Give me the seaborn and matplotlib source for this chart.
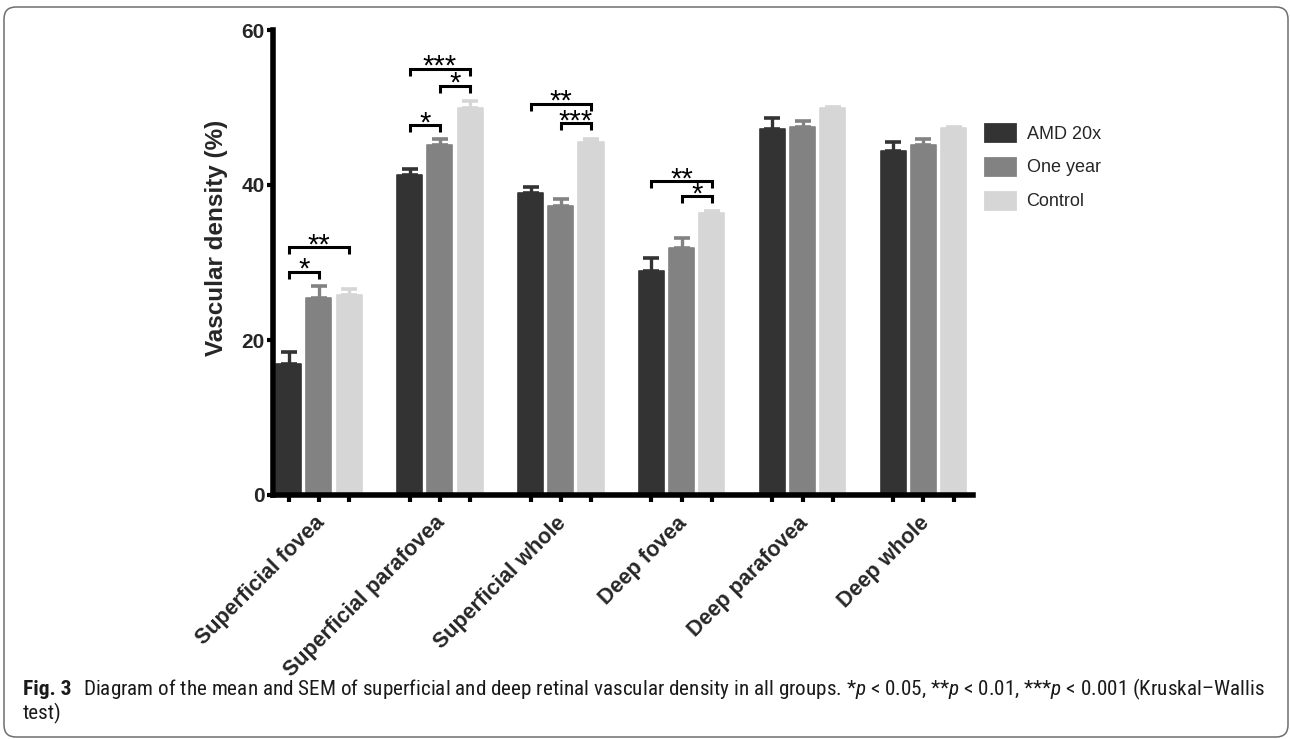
import matplotlib
matplotlib.use("Agg")
import matplotlib.pyplot as plt
import matplotlib.transforms as mtransforms
from matplotlib.patches import FancyBboxPatch, Patch
from matplotlib import font_manager
import seaborn as sns
import numpy as np
import pandas as pd

# ---------------- data ----------------
categories = ["Superficial fovea", "Superficial parafovea", "Superficial whole",
              "Deep fovea", "Deep parafovea", "Deep whole"]
groups = ["AMD 20x", "One year", "Control"]
amd_mean = [16.9, 41.3, 39.0, 28.9, 47.2, 44.4]
amd_sem = [1.5, 0.8, 0.8, 1.7, 1.4, 1.1]
year_mean = [25.4, 45.2, 37.3, 31.9, 47.5, 45.2]
year_sem = [1.6, 0.8, 0.9, 1.2, 0.7, 0.7]
ctrl_mean = [25.8, 49.9, 45.5, 36.4, 50.0, 47.4]
ctrl_sem = [0.8, 0.9, 0.5, 0.2, 0.1, 0.1]
y_ticks = [0, 20, 40, 60]
y_label = "Vascular density (%)"
# significance brackets: (category index, group a, group b, bracket height, label)
sig_category = [0, 0, 1, 1, 1, 2, 2, 3, 3]
sig_a = [0, 0, 0, 0, 1, 0, 1, 0, 1]
sig_b = [1, 2, 1, 2, 2, 2, 2, 2, 2]
sig_height = [28.8, 32.0, 47.7, 55.0, 52.8, 50.5, 48.0, 40.5, 38.6]
sig_label = ["*", "**", "*", "***", "*", "**", "***", "**", "*"]
caption_bold = "Fig. 3"
caption_main = ("Diagram of the mean and SEM of superficial and deep retinal vascular density in all "
                "groups. *$p$ < 0.05, **$p$ < 0.01, ***$p$ < 0.001 (Kruskal\u2013Wallis")
caption_line2 = "test)"

colors = ["#333333", "#828282", "#d6d6d6"]

# ---------------- style ----------------
sns.set_style("white")
avail = {f.name for f in font_manager.fontManager.ttflist}
main_family = next((f for f in ["Liberation Sans", "Arial", "DejaVu Sans"] if f in avail), "DejaVu Sans")
plt.rcParams["font.family"] = [main_family, "DejaVu Sans"]
cap_family = next((f for f in ["Liberation Sans Narrow", "Roboto Condensed", "Open Sans", "Roboto"]
                   if f in avail), "DejaVu Sans")
plt.rcParams["mathtext.fontset"] = "custom"
plt.rcParams["mathtext.rm"] = cap_family
plt.rcParams["mathtext.it"] = cap_family + ":italic"

W, H = 1290, 739
fig = plt.figure(figsize=(W / 100, H / 100), dpi=100)
fig.patch.set_facecolor("white")
ax = fig.add_axes([273 / W, 1 - 495 / H, 700 / W, 465 / H])

df = pd.DataFrame({
    "category": np.repeat(categories, 3),
    "group": groups * len(categories),
    "value": np.ravel(np.column_stack([amd_mean, year_mean, ctrl_mean])),
})
sems = [amd_sem, year_sem, ctrl_sem]
means = [amd_mean, year_mean, ctrl_mean]

sns.barplot(data=df, x="category", y="value", hue="group", order=categories, hue_order=groups,
            palette=colors, saturation=1, width=0.75, gap=0.17, errorbar=None,
            legend=False, ax=ax, zorder=2)

bars = sorted(ax.patches, key=lambda p: p.get_x())
centers = np.array([p.get_x() + p.get_width() / 2 for p in bars]).reshape(len(categories), 3)
for p in bars:
    p.set_edgecolor(p.get_facecolor())
    p.set_linewidth(1.2)
    p.set_joinstyle("round")

for h in range(3):
    ax.errorbar(centers[:, h], means[h], yerr=[np.zeros(len(categories)), sems[h]],
                fmt="none", ecolor=colors[h], elinewidth=2.4, capsize=5.5, capthick=2.6,
                zorder=1)

# brackets
for c, a, b, yv, lab in zip(sig_category, sig_a, sig_b, sig_height, sig_label):
    xa, xb = centers[c, a], centers[c, b]
    ax.plot([xa, xa, xb, xb], [yv - 0.9, yv, yv, yv - 0.9], color="black", lw=2.2,
            solid_joinstyle="miter", solid_capstyle="butt", zorder=4, clip_on=False)
    ax.annotate(lab, xy=((xa + xb) / 2, yv), xytext=(0, -4.5), textcoords="offset points",
                ha="center", va="baseline", fontsize=21, color="black", zorder=5,
                family=main_family, annotation_clip=False)

# axes
ax.set_ylim(0, 60)
ax.set_xlim(-0.38, 5.41)
ax.set_yticks(y_ticks)
ax.set_yticklabels([str(v) for v in y_ticks], fontsize=15, fontweight="bold")
ax.set_xticks(range(len(categories)))
ax.set_xticks(centers.ravel(), minor=True)
ax.set_xticklabels(categories, fontsize=15.5, fontweight="bold", rotation=45,
                   ha="right", rotation_mode="anchor")
ax.tick_params(axis="x", which="both", direction="out", length=5, width=3, color="black",
               pad=7.5, bottom=True)
ax.tick_params(axis="y", direction="out", length=4.3, width=3, color="black", pad=1.5, left=True)
shift = mtransforms.ScaledTranslation(-5 / 100, 0, fig.dpi_scale_trans)
for lbl in ax.get_xticklabels():
    lbl.set_transform(lbl.get_transform() + shift)
ax.set_xlabel("")
ax.set_ylabel(y_label, fontsize=17.5, fontweight="bold")
ax.yaxis.set_label_coords(-0.064, 0.553)
for s in ["top", "right"]:
    ax.spines[s].set_visible(False)
for s in ["left", "bottom"]:
    ax.spines[s].set_linewidth(4.0)
    ax.spines[s].set_color("black")
    ax.spines[s].set_zorder(3)
ax.grid(False)

handles = [Patch(facecolor=c, edgecolor=c, linewidth=2, joinstyle="round") for c in colors]
ax.legend(handles, groups, loc="upper left", bbox_to_anchor=(985 / W, 1 - 124 / H),
          bbox_transform=fig.transFigure, frameon=False, fontsize=13, handlelength=1.65,
          handleheight=1.05, handletextpad=0.65, labelspacing=0.85, borderpad=0,
          borderaxespad=0)

# caption
renderer = fig.canvas.get_renderer()
t_main = fig.text(83 / W, 1 - 695 / H, caption_main, fontsize=11, family=cap_family,
                  ha="left", va="baseline", color="#1a1a1a")
size = 11 * (1262 - 83) / t_main.get_window_extent(renderer).width
t_main.set_fontsize(size)
t_bold = fig.text(23 / W, 1 - 695 / H, caption_bold, fontsize=11, family=cap_family,
                  fontweight="bold", ha="left", va="baseline", color="#1a1a1a")
t_bold.set_fontsize(11 * (71 - 23) / t_bold.get_window_extent(renderer).width)
fig.text(23 / W, 1 - 719 / H, caption_line2, fontsize=size, family=cap_family,
         ha="left", va="baseline", color="#1a1a1a")

border = FancyBboxPatch((4, 2), 1284, 730, boxstyle="round,pad=0,rounding_size=12",
                        transform=mtransforms.IdentityTransform(), facecolor="none",
                        edgecolor="#6e6e6e", linewidth=1.1)
fig.add_artist(border)

fig.savefig("out.png", dpi=100)
